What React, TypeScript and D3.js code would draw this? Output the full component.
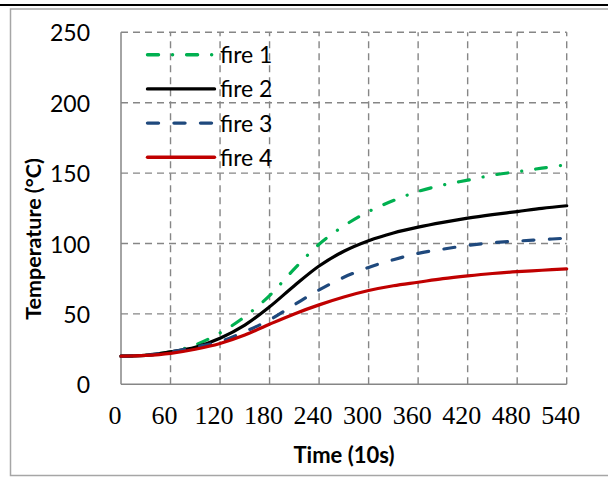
import React from 'react';
import * as d3 from 'd3';

// readings, every 30 time units
const times = [0, 30, 60, 90, 120, 150, 180, 210, 240, 270, 300, 330, 360, 390, 420, 450, 480, 510, 540];
const fire1 = [20, 20.7, 23, 28, 36.5, 48, 63, 82, 99.5, 112.5, 122.7, 130.5, 137, 141.5, 145, 148.5, 151, 153.5, 156];
const fire2 = [20, 20.6, 23, 26.3, 32.7, 42, 55, 70, 84, 94.5, 102, 107.5, 111.6, 115, 118, 120.5, 122.7, 125, 126.8];
const fire3 = [20, 20.6, 23, 26.5, 30.3, 37.4, 45.7, 56.5, 67, 76, 83, 88.5, 93, 96, 98.6, 100.5, 101.7, 102.8, 103.8];
const fire4 = [20, 20.5, 22, 24.9, 29, 35, 42.7, 50, 56.4, 62, 66.6, 70, 72.5, 75, 77, 78.7, 80, 81, 82];

const seriesNames = ['fire 1', 'fire 2', 'fire 3', 'fire 4'];
const seriesValues = [fire1, fire2, fire3, fire4];
const seriesColors = ['#00b050', '#000000', '#1f497d', '#c00000'];
const seriesDash = ['11 14 0.1 14', null, '11 15.5', null];

const xTicks = [0, 60, 120, 180, 240, 300, 360, 420, 480, 540];
const yTicks = [0, 50, 100, 150, 200, 250];

const svgWidth = 608, svgHeight = 477;
const plot = { left: 121, right: 566.7, top: 32.3, bottom: 384.3 };

const sans = 'Lato, "Open Sans", sans-serif';
const serif = '"Liberation Serif", "DejaVu Serif", serif';

const App = () => {
  const xScale = d3.scaleLinear().domain([0, 540]).range([plot.left, plot.right]);
  const yScale = d3.scaleLinear().domain([0, 250]).range([plot.bottom, plot.top]);

  const line = d3.line<number>()
    .x((d, i) => xScale(times[i]))
    .y(d => yScale(d))
    .curve(d3.curveCatmullRom.alpha(0.5));

  const gridColor = '#868686';

  return <svg width={svgWidth} height={svgHeight}
    style={{ position: 'absolute', left: 0, top: 0, background: '#fff' }}>
    {/* 外框 */}
    <line x1={0} x2={svgWidth} y1={5} y2={5} stroke='#000' strokeWidth={2.2} />
    <rect x={10.5} y={9} width={svgWidth + 10} height={466.5} fill='none' stroke='#a6a6a6' strokeWidth={1.5} />

    {/* 网格 */}
    <g className='grid'>
      {xTicks.slice(1).map(x => <line key={'gx' + x}
        x1={xScale(x)} x2={xScale(x)} y1={yScale(0)} y2={yScale(250)}
        stroke={gridColor} strokeWidth={1.4} strokeDasharray='7 5' />)}
      {yTicks.slice(1).map(y => <line key={'gy' + y}
        x1={xScale(0)} x2={xScale(540)} y1={yScale(y)} y2={yScale(y)}
        stroke={gridColor} strokeWidth={1.4} strokeDasharray='7 5' />)}
    </g>

    {/* 坐标轴 */}
    <line x1={xScale(0)} x2={xScale(0)} y1={yScale(0)} y2={yScale(250)} stroke={gridColor} strokeWidth={1.5} />
    <line x1={xScale(0)} x2={xScale(540)} y1={yScale(0)} y2={yScale(0)} stroke={gridColor} strokeWidth={1.5} />

    <g className='yAxis'>
      {yTicks.map(y => <text key={y} x={90} y={yScale(y)} textAnchor='end'
        dominantBaseline='central' fontFamily={sans} fontSize={23} fill='#000'>{y}</text>)}
    </g>
    <g className='xAxis'>
      {xTicks.map(x => <text key={x} x={xScale(x) - 6} y={424} textAnchor='middle'
        fontFamily={serif} fontSize={26} fill='#000'>{x}</text>)}
    </g>

    <text x={344} y={463} textAnchor='middle' fontFamily={sans} fontWeight='bold' fontSize={22} fill='#000'>Time (10s)</text>
    <text transform='translate(41, 239) rotate(-90)' textAnchor='middle' fontFamily={sans}
      fontWeight='bold' fontSize={21.5} fill='#000'>Temperature (°C)</text>

    {/* 曲线 */}
    <g className='lines'>
      {seriesValues.map((vals, i) => <path key={seriesNames[i]} d={line(vals) || ''}
        fill='none' stroke={seriesColors[i]} strokeWidth={3.2}
        strokeLinecap='round' strokeDasharray={seriesDash[i] || undefined} />)}
    </g>

    {/* 图例 */}
    <g className='legend'>
      {seriesNames.map((name, i) => {
        const y = 54.7 + i * 34.2;
        return <g key={name}>
          <line x1={147.5} x2={214.5} y1={y} y2={y} stroke={seriesColors[i]} strokeWidth={3.4}
            strokeLinecap='round' strokeDasharray={seriesDash[i] || undefined} />
          <text x={220} y={y + 8.5} fontFamily={sans} fontSize={23} fill='#000'>{name}</text>
        </g>
      })}
    </g>
  </svg>
}

export default App;
